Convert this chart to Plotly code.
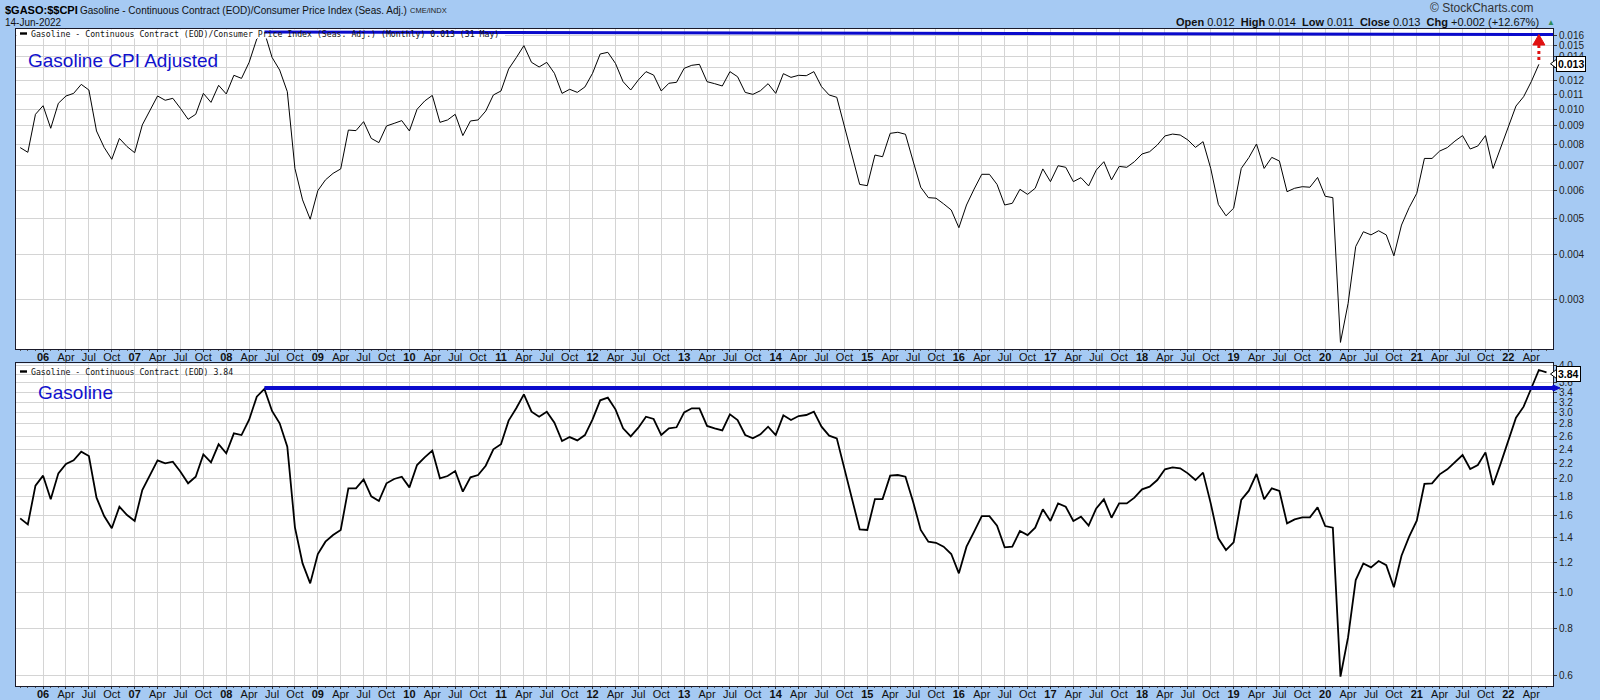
import numpy as np
import pandas as pd
import plotly.graph_objects as go

# ---------------- data (monthly closes, Oct 2005 .. Jun 2022) ----------------
months = pd.date_range("2005-10-01", "2022-06-01", freq="MS")
month_labels = [d.strftime("%b %Y") for d in months]

# Gasoline / CPI ratio (monthly, Oct 2005 .. May 2022)
gas_cpi = [
    0.00785, 0.00762, 0.00969, 0.01023, 0.00887, 0.01039, 0.01088, 0.01106, 0.01171, 0.01130,
    0.00872, 0.00786, 0.00729, 0.00832, 0.00790, 0.00760, 0.00906, 0.00996, 0.01088, 0.01059,
    0.01072, 0.01006, 0.00939, 0.00969, 0.01106, 0.01045, 0.01164, 0.01102, 0.01240, 0.01216,
    0.01346, 0.01560, 0.01630, 0.01389, 0.01282, 0.01118, 0.00688, 0.00564, 0.00499, 0.00598,
    0.00640, 0.00667, 0.00686, 0.00877, 0.00874, 0.00925, 0.00832, 0.00810, 0.00900, 0.00915,
    0.00931, 0.00872, 0.01000, 0.01054, 0.01092, 0.00921, 0.00935, 0.00969, 0.00847, 0.00929,
    0.00935, 0.00989, 0.01095, 0.01123, 0.01290, 0.01386, 0.01496, 0.01346, 0.01307, 0.01346,
    0.01256, 0.01106, 0.01135, 0.01113, 0.01152, 0.01256, 0.01419, 0.01434, 0.01337, 0.01191,
    0.01130, 0.01204, 0.01269, 0.01242, 0.01123, 0.01179, 0.01186, 0.01296, 0.01321, 0.01329,
    0.01191, 0.01176, 0.01159, 0.01269, 0.01229, 0.01113, 0.01099, 0.01125, 0.01176, 0.01106,
    0.01253, 0.01224, 0.01240, 0.01237, 0.01269, 0.01154, 0.01095, 0.01079, 0.00896, 0.00744,
    0.00622, 0.00617, 0.00749, 0.00741, 0.00859, 0.00865, 0.00854, 0.00721, 0.00611, 0.00572,
    0.00570, 0.00550, 0.00529, 0.00473, 0.00546, 0.00604, 0.00663, 0.00663, 0.00622, 0.00546,
    0.00552, 0.00603, 0.00584, 0.00607, 0.00686, 0.00633, 0.00700, 0.00693, 0.00633, 0.00649,
    0.00616, 0.00681, 0.00718, 0.00640, 0.00697, 0.00693, 0.00718, 0.00754, 0.00765, 0.00798,
    0.00845, 0.00855, 0.00850, 0.00824, 0.00786, 0.00815, 0.00688, 0.00548, 0.00510, 0.00535,
    0.00688, 0.00737, 0.00803, 0.00688, 0.00738, 0.00721, 0.00594, 0.00607, 0.00613, 0.00611,
    0.00650, 0.00577, 0.00572, 0.00229, 0.00293, 0.00420, 0.00461, 0.00452, 0.00464, 0.00452,
    0.00396, 0.00481, 0.00537, 0.00588, 0.00733, 0.00733, 0.00768, 0.00785, 0.00818, 0.00847,
    0.00778, 0.00793, 0.00847, 0.00688, 0.00786, 0.00906, 0.01021, 0.01083, 0.01191, 0.01329,
]

# Gasoline continuous contract (monthly, Oct 2005 .. Jun 2022)
gasoline = [
    1.572, 1.515, 1.920, 2.041, 1.766, 2.070, 2.192, 2.242, 2.364, 2.302,
    1.784, 1.594, 1.479, 1.688, 1.604, 1.547, 1.869, 2.049, 2.242, 2.201,
    2.224, 2.091, 1.948, 2.028, 2.325, 2.215, 2.473, 2.340, 2.644, 2.617,
    2.875, 3.310, 3.469, 3.032, 2.812, 2.437, 1.488, 1.193, 1.056, 1.264,
    1.363, 1.419, 1.464, 1.889, 1.889, 1.995, 1.798, 1.748, 1.948, 2.000,
    2.028, 1.900, 2.178, 2.283, 2.379, 2.008, 2.037, 2.100, 1.851, 2.020,
    2.049, 2.169, 2.398, 2.473, 2.858, 3.082, 3.357, 3.019, 2.928, 3.019,
    2.823, 2.522, 2.585, 2.533, 2.617, 2.881, 3.236, 3.289, 3.063, 2.727,
    2.596, 2.738, 2.928, 2.887, 2.617, 2.727, 2.744, 3.007, 3.082, 3.082,
    2.766, 2.727, 2.693, 2.970, 2.869, 2.617, 2.565, 2.628, 2.754, 2.617,
    2.952, 2.869, 2.940, 2.958, 3.019, 2.754, 2.607, 2.565, 2.135, 1.776,
    1.470, 1.464, 1.769, 1.769, 2.041, 2.049, 2.028, 1.741, 1.464, 1.363,
    1.354, 1.322, 1.264, 1.123, 1.322, 1.449, 1.594, 1.594, 1.503, 1.316,
    1.322, 1.455, 1.419, 1.485, 1.661, 1.547, 1.723, 1.688, 1.547, 1.588,
    1.503, 1.671, 1.766, 1.578, 1.723, 1.723, 1.784, 1.877, 1.908, 1.987,
    2.122, 2.147, 2.135, 2.070, 1.987, 2.079, 1.723, 1.391, 1.295, 1.357,
    1.759, 1.862, 2.062, 1.766, 1.889, 1.858, 1.524, 1.562, 1.581, 1.581,
    1.681, 1.500, 1.485, 0.597, 0.760, 1.078, 1.193, 1.165, 1.211, 1.181,
    1.031, 1.251, 1.405, 1.550, 1.940, 1.948, 2.058, 2.122, 2.210, 2.316,
    2.126, 2.178, 2.354, 1.928, 2.201, 2.522, 2.911, 3.113, 3.483, 3.896,
    3.840,
]

# x tick labels (quarterly; bold two-digit year at January)
tick_pos = []
tick_text = []
for i, d in enumerate(months):
    if i > 0 and d.month in (1, 4, 7, 10):
        tick_pos.append(i)
        tick_text.append(f"<b>{d:%y}</b>" if d.month == 1 else d.strftime("%b"))

top_ticks = [0.003, 0.004, 0.005, 0.006, 0.007, 0.008, 0.009, 0.010,
             0.011, 0.012, 0.013, 0.014, 0.015, 0.016]
bot_ticks = [0.6, 0.8, 1.0, 1.2, 1.4, 1.6, 1.8, 2.0, 2.2, 2.4, 2.6, 2.8,
             3.0, 3.2, 3.4, 3.6, 3.8, 4.0]
# tick labels hidden behind the last-value boxes (gridlines kept)
top_hidden = [0.013]
bot_hidden = [3.8]
top_labels = ["" if v in top_hidden else f"{v:.3f}" for v in top_ticks]
bot_labels = ["" if v in bot_hidden else f"{v:.1f}" for v in bot_ticks]

peak_idx = 32                       # Jun 2008 peak, origin of the resistance lines
top_resistance = [0.0163, 0.01605]  # start / end level of upper blue line
bot_resistance = 3.49               # level of lower blue line

# ---------------- layout geometry ----------------
W, H = 1600, 700
ML, MR, MT, MB = 16, 47, 29, 14
PW, PH = W - ML - MR, H - MT - MB


def fx(px):
    return (px - ML) / PW


def fy(py):
    return (H - MB - py) / PH


XR = [-0.55, 200.85]
TOP_DOM = [fy(349), 1.0]
BOT_DOM = [0.0, fy(363.3)]
TOP_RNG = [-2.6583, -1.7794]
BOT_RNG = [-0.2490, 0.6084]


def mx(m):
    return (m - XR[0]) / (XR[1] - XR[0])


def vy(v, dom, rng):
    return dom[0] + (np.log10(v) - rng[0]) / (rng[1] - rng[0]) * (dom[1] - dom[0])


BG = "#A6CAF3"
GRID = "#D4D4D4"
BORDER = "#1A1A2A"
BLUE = "#0A0ACC"
SANS = "Liberation Sans, Arial, Helvetica, sans-serif"
MONO = "DejaVu Sans Mono, monospace"

fig = go.Figure()
fig.add_trace(go.Scatter(
    x=list(range(len(gas_cpi))), y=gas_cpi, text=month_labels[:len(gas_cpi)],
    mode="lines", line=dict(color="black", width=1), xaxis="x", yaxis="y",
    hovertemplate="%{text}: %{y:.4f}<extra></extra>"))
fig.add_trace(go.Scatter(
    x=list(range(len(gasoline))), y=gasoline, text=month_labels,
    mode="lines", line=dict(color="black", width=1.8), xaxis="x2", yaxis="y2",
    hovertemplate="%{text}: %{y:.3f}<extra></extra>"))

xcommon = dict(
    range=XR, tickmode="array", tickvals=tick_pos, ticktext=tick_text,
    showgrid=True, gridcolor=GRID, gridwidth=1, zeroline=False,
    ticks="outside", ticklen=2, tickcolor="#333", ticklabelstandoff=-4,
    showline=True, linecolor=BORDER, linewidth=1, mirror=True,
    tickfont=dict(family=SANS, size=11, color="#111"),
    minor=dict(tickmode="linear", tick0=0, dtick=1, ticks="outside",
               ticklen=1, tickcolor="#555", showgrid=False),
    fixedrange=True, automargin=False,
)
ycommon = dict(
    type="log", side="right", showgrid=True, gridcolor=GRID, gridwidth=1,
    zeroline=False, ticks="outside", ticklen=3, tickcolor="#333",
    showline=True, linecolor=BORDER, linewidth=1, mirror=True,
    tickfont=dict(family=SANS, size=10, color="#222"), tickmode="array",
    fixedrange=True, automargin=False,
)

fig.update_layout(
    width=W, height=H,
    margin=dict(l=ML, r=MR, t=MT, b=MB, pad=0),
    paper_bgcolor=BG, plot_bgcolor="white",
    showlegend=False, hovermode="closest",
    xaxis=dict(**xcommon, anchor="y", domain=[0, 1]),
    xaxis2=dict(**xcommon, anchor="y2", domain=[0, 1]),
    yaxis=dict(**ycommon, anchor="x", domain=TOP_DOM, range=TOP_RNG,
               tickvals=top_ticks, ticktext=top_labels),
    yaxis2=dict(**ycommon, anchor="x2", domain=BOT_DOM, range=BOT_RNG,
                tickvals=bot_ticks, ticktext=bot_labels),
)

shapes = []
# white cover behind the upper legend text
shapes.append(dict(type="rect", xref="paper", yref="paper", layer="above",
                   x0=fx(17), x1=fx(505), y0=fy(38.5), y1=fy(29.6),
                   fillcolor="white", line=dict(width=0)))
# legend dashes
for cy in (33.5, 371.5):
    shapes.append(dict(type="rect", xref="paper", yref="paper", layer="above",
                       x0=fx(20), x1=fx(27), y0=fy(cy + 1.2), y1=fy(cy - 1.2),
                       fillcolor="black", line=dict(width=0)))
# upper resistance line
shapes.append(dict(type="line", xref="paper", yref="paper", layer="above",
                   x0=mx(peak_idx), x1=1.0,
                   y0=vy(top_resistance[0], TOP_DOM, TOP_RNG),
                   y1=vy(top_resistance[1], TOP_DOM, TOP_RNG),
                   line=dict(color=BLUE, width=3)))
# lower resistance line with small arrow tip
yb = vy(bot_resistance, BOT_DOM, BOT_RNG)
shapes.append(dict(type="line", xref="paper", yref="paper", layer="above",
                   x0=mx(peak_idx), x1=fx(1555), y0=yb, y1=yb,
                   line=dict(color=BLUE, width=4)))
hh = 3.0 / PH
shapes.append(dict(type="path", xref="paper", yref="paper", layer="above",
                   path=f"M {fx(1553)},{yb + hh} L {fx(1560)},{yb} L {fx(1553)},{yb - hh} Z",
                   fillcolor=BLUE, line=dict(color=BLUE, width=1)))
# red dotted arrow above last value
xa = mx(len(gas_cpi) - 1)
shapes.append(dict(type="line", xref="paper", yref="paper", layer="above",
                   x0=xa, x1=xa, y0=fy(60), y1=fy(45),
                   line=dict(color="#E01010", width=3, dash="dot")))
dw = 6.0 / PW
shapes.append(dict(type="path", xref="paper", yref="paper", layer="above",
                   path=f"M {xa - dw},{fy(45)} L {xa + dw},{fy(45)} L {xa},{fy(34.5)} Z",
                   fillcolor="#E01010", line=dict(color="#E01010", width=1)))
# value box pointers
for cy in (63.8, 374.0):
    shapes.append(dict(type="path", xref="paper", yref="paper", layer="above",
                       path=f"M {fx(1550.5)},{fy(cy)} L {fx(1556.5)},{fy(cy - 4.5)} "
                            f"L {fx(1556.5)},{fy(cy + 4.5)} Z",
                       fillcolor="white", line=dict(color="black", width=1)))
fig.update_layout(shapes=shapes)

ann = []


def text(t, x, y, size, family=SANS, color="#111", xanchor="left", **kw):
    ann.append(dict(text=t, x=fx(x), y=fy(y), xref="paper", yref="paper",
                    xanchor=xanchor, yanchor="middle", showarrow=False,
                    font=dict(family=family, size=size, color=color), **kw))


# header
text("<b>$GASO:$$CPI</b>", 3, 10, 11, color="#000")
text("Gasoline - Continuous Contract (EOD)/Consumer Price Index (Seas. Adj.)", 78, 10, 10,
     color="#111")
text("CME/INDX", 408, 10.5, 7.5, color="#222")
text("14-Jun-2022", 3, 22.5, 10, color="#111")
text("\u00a9 StockCharts.com", 1536, 8.5, 12, color="#333", xanchor="right")
text("<b>Open</b> 0.012\u00a0\u00a0<b>High</b> 0.014\u00a0\u00a0<b>Low</b> 0.011\u00a0\u00a0"
     "<b>Close</b> 0.013\u00a0\u00a0<b>Chg</b> +0.002 (+12.67%)",
     1541, 22, 11, color="#111", xanchor="right")
text("\u25b2", 1545, 22, 8, color="#2E8B57")

# in-panel legends
text(f"Gasoline - Continuous Contract (EOD)/Consumer Price Index (Seas. Adj.) (Monthly) "
     f"{gas_cpi[-1]:.3f} (31 May)", 29, 33.7, 8.2, family=MONO, color="#111")
text(f"Gasoline - Continuous Contract (EOD) {gasoline[-1]:.2f}", 29, 371.5, 8.2,
     family=MONO, color="#111")
text("Gasoline CPI Adjusted", 26, 60, 19, color="#1111CC")
text("Gasoline", 36, 392, 19, color="#1111CC")

# last-value boxes
text(f"<b>{gas_cpi[-1]:.3f}</b>", 1556, 63.8, 10.5, color="#000",
     bgcolor="white", bordercolor="black", borderwidth=1, borderpad=1)
text(f"<b>{gasoline[-1]:.2f}</b>", 1556, 374.0, 10.5, color="#000",
     bgcolor="white", bordercolor="black", borderwidth=1, borderpad=1)

fig.update_layout(annotations=ann)

fig.write_html(
    "out.html",
    config={"displayModeBar": False},
    post_script="document.body.style.margin='0';document.body.style.padding='0';"
                "document.body.style.overflow='hidden';",
)
